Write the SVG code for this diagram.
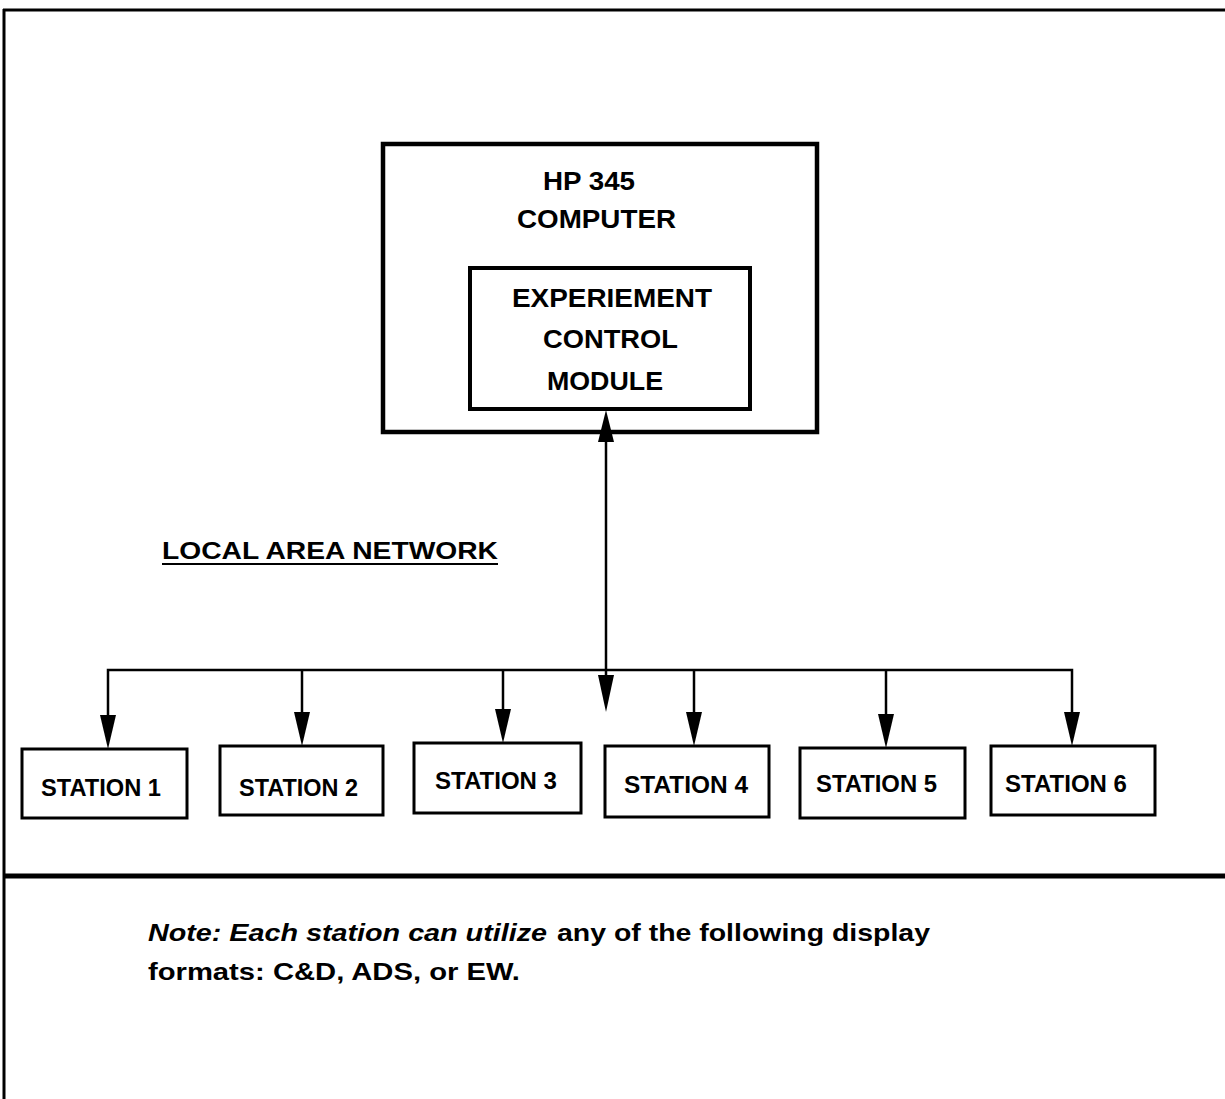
<svg xmlns="http://www.w3.org/2000/svg" width="1225" height="1099" viewBox="0 0 1225 1099">
<style>
  .frame{fill:none;stroke:#000;stroke-width:3}
  .box{fill:#fff;stroke:#000;stroke-width:3}
  .big{fill:#fff;stroke:#000;stroke-width:4.5}
  .inner{fill:#fff;stroke:#000;stroke-width:4}
  .wire{fill:none;stroke:#000;stroke-width:2.5}
  .head{fill:#000;stroke:none}
  .t{font-family:"Liberation Sans",Arial,sans-serif;font-weight:bold;fill:#000}
  .st{font-size:23px}
  .hd{font-size:25px}
  .nt{font-size:24px}
</style>
<defs>
  <path id="down" d="M0,0 L-8,-34 L8,-34 Z"/>
</defs>
<rect width="1225" height="1099" fill="#fff"/>
<g id="frame">
  <line class="frame" x1="3" y1="10" x2="1225" y2="10"/>
  <line class="frame" x1="4" y1="9" x2="4" y2="1099"/>
  <line x1="4" y1="876" x2="1225" y2="876" stroke="#000" stroke-width="5"/>
</g>
<g id="computer">
  <rect class="big" x="383" y="144" width="434" height="288"/>
  <text class="t hd" x="543" y="190" textLength="92" lengthAdjust="spacingAndGlyphs">HP 345</text>
  <text class="t hd" x="517" y="228" textLength="159" lengthAdjust="spacingAndGlyphs">COMPUTER</text>
</g>
<g id="ecm">
  <rect class="inner" x="470" y="268" width="280" height="141"/>
  <text class="t hd" x="512" y="307" textLength="200" lengthAdjust="spacingAndGlyphs">EXPERIEMENT</text>
  <text class="t hd" x="543" y="348" textLength="135" lengthAdjust="spacingAndGlyphs">CONTROL</text>
  <text class="t hd" x="547" y="390" textLength="116" lengthAdjust="spacingAndGlyphs">MODULE</text>
</g>
<g id="lan-label">
  <text class="t" font-size="24" x="162" y="559" textLength="336" lengthAdjust="spacingAndGlyphs">LOCAL AREA NETWORK</text>
  <line x1="162" y1="564" x2="498" y2="564" stroke="#000" stroke-width="2"/>
</g>
<g id="connectors">
  <line class="wire" x1="606" y1="440" x2="606" y2="678" stroke-width="3"/>
  <path class="head" d="M606,410 L598,442 L614,442 Z"/>
  <path class="head" d="M606,712 L598,675 L614,675 Z"/>
  <polyline class="wire" points="108,720 108,670 1072,670 1072,720"/>
  <line class="wire" x1="302" y1="670" x2="302" y2="720"/>
  <line class="wire" x1="503" y1="670" x2="503" y2="718"/>
  <line class="wire" x1="694" y1="670" x2="694" y2="720"/>
  <line class="wire" x1="886" y1="670" x2="886" y2="720"/>
  <use href="#down" class="head" x="108" y="749"/>
  <use href="#down" class="head" x="302" y="746"/>
  <use href="#down" class="head" x="503" y="743"/>
  <use href="#down" class="head" x="694" y="746"/>
  <use href="#down" class="head" x="886" y="748"/>
  <use href="#down" class="head" x="1072" y="746"/>
</g>
<g id="station1">
  <rect class="box" x="22" y="749" width="165" height="69"/>
  <text class="t st" x="41" y="796" textLength="120" lengthAdjust="spacingAndGlyphs">STATION 1</text>
</g>
<g id="station2">
  <rect class="box" x="220" y="746" width="163" height="69"/>
  <text class="t st" x="239" y="796" textLength="119" lengthAdjust="spacingAndGlyphs">STATION 2</text>
</g>
<g id="station3">
  <rect class="box" x="414" y="743" width="167" height="70"/>
  <text class="t st" x="435" y="789" textLength="122" lengthAdjust="spacingAndGlyphs">STATION 3</text>
</g>
<g id="station4">
  <rect class="box" x="605" y="746" width="164" height="71"/>
  <text class="t st" x="624" y="793" textLength="124" lengthAdjust="spacingAndGlyphs">STATION 4</text>
</g>
<g id="station5">
  <rect class="box" x="800" y="748" width="165" height="70"/>
  <text class="t st" x="816" y="792" textLength="121" lengthAdjust="spacingAndGlyphs">STATION 5</text>
</g>
<g id="station6">
  <rect class="box" x="991" y="746" width="164" height="69"/>
  <text class="t st" x="1005" y="792" textLength="122" lengthAdjust="spacingAndGlyphs">STATION 6</text>
</g>
<g id="note">
  <text class="t nt" x="148" y="941" textLength="399" lengthAdjust="spacingAndGlyphs" font-style="italic">Note:  Each station can utilize</text>
  <text class="t nt" x="557" y="941" textLength="373" lengthAdjust="spacingAndGlyphs">any of the following display</text>
  <text class="t nt" x="148" y="980" textLength="372" lengthAdjust="spacingAndGlyphs">formats:  C&amp;D, ADS, or EW.</text>
</g>
</svg>
